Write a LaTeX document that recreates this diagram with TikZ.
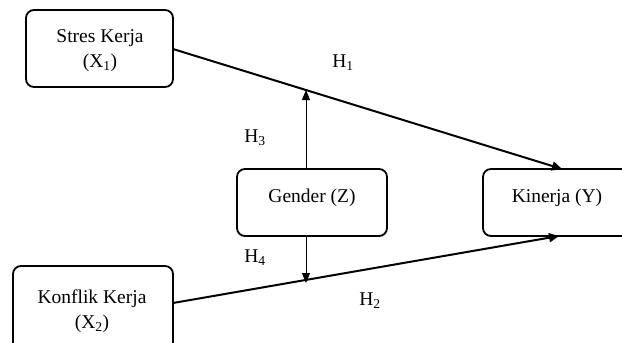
\documentclass[tikz,border=0pt]{standalone}
\usepackage{fontspec}
\setmainfont{Liberation Serif}
\usetikzlibrary{arrows.meta}
\begin{document}
\begin{tikzpicture}[x=1pt,y=-1pt,
  box/.style={draw, line width=1.8pt, rounded corners=8pt},
  lbl/.style={font=\fontsize{19.5}{22}\selectfont, inner sep=0pt},
  thick arrow/.style={line width=2pt, -{Triangle[length=10pt,width=9pt]}},
  thin arrow/.style={line width=1pt, -{Triangle[length=10pt,width=8pt]}}]
\useasboundingbox (0,0) rectangle (622,343);
\begin{scope}
\clip (0,0) rectangle (622,343);
\draw[box] (26,10) rectangle (173,87);
\draw[box] (237,169) rectangle (387,236);
\draw[box] (483,169) rectangle (640,236);
\draw[box] (13,266) rectangle (173,352);
\end{scope}
\node[lbl, align=center] (x1) at (100,51) {Stres Kerja\\[3pt](X\textsubscript{1})};
\node[lbl] (z) at (312,198) {Gender (Z)};
\node[lbl] (y) at (557,198) {Kinerja (Y)};
\node[lbl, align=center] (x2) at (92,311) {Konflik Kerja\\[3pt](X\textsubscript{2})};
\coordinate (x1e) at (173,49);
\coordinate (x2e) at (173,303);
\coordinate (yt) at (562,169);
\coordinate (yb) at (559,236);
\coordinate (zt) at (306,169);
\coordinate (zb) at (306,236);
\coordinate (m1) at (306,90);
\coordinate (m2) at (306,283);
\draw[thick arrow] (x1e) -- (yt);
\draw[thick arrow] (x2e) -- (yb);
\draw[thin arrow] (zt) -- (m1);
\draw[thin arrow] (zb) -- (m2);
\node[lbl] (h1) at (343,63) {H\textsubscript{1}};
\node[lbl] (h3) at (255,138) {H\textsubscript{3}};
\node[lbl] (h4) at (255,258) {H\textsubscript{4}};
\node[lbl] (h2) at (370,301) {H\textsubscript{2}};
\end{tikzpicture}
\end{document}
